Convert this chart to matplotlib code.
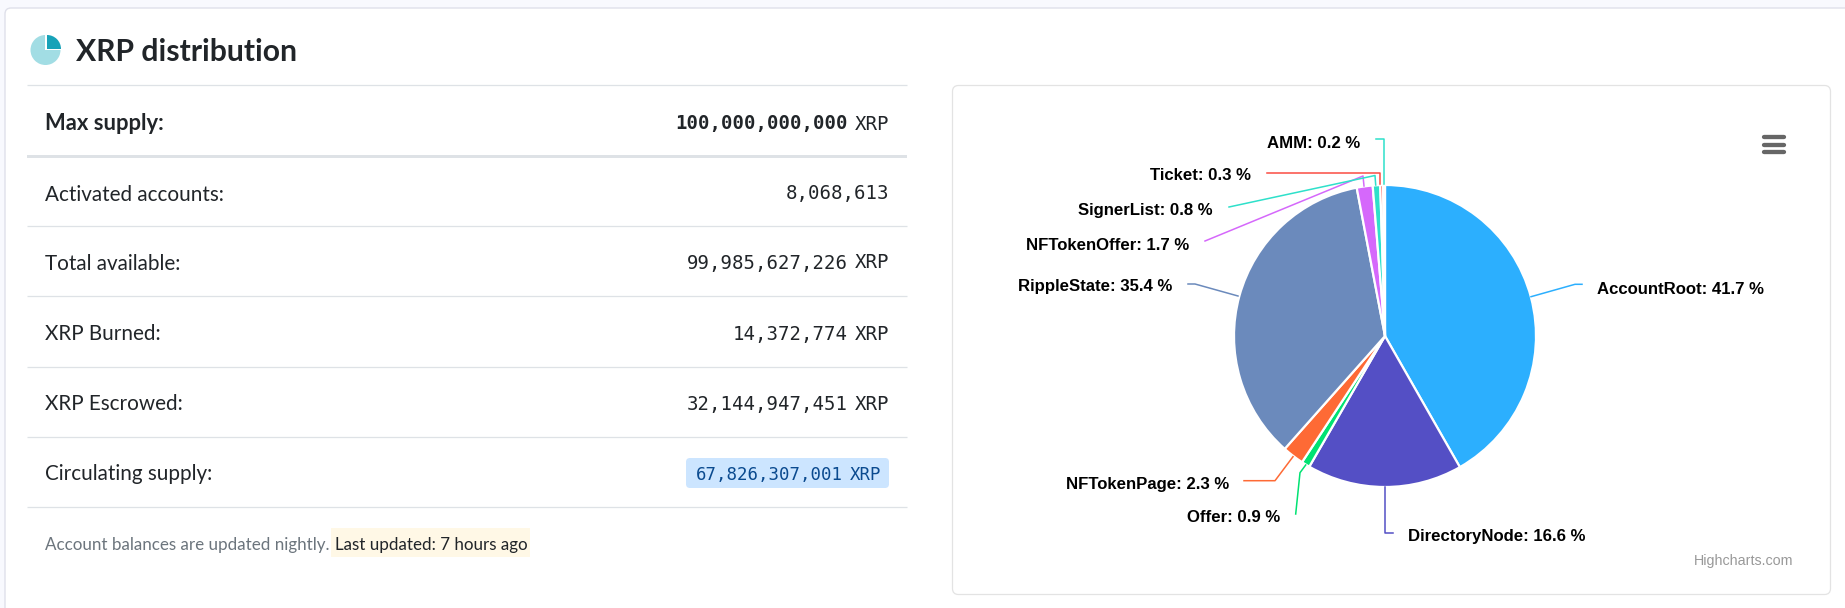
import matplotlib
matplotlib.use("Agg")
import numpy as np
import matplotlib.pyplot as plt
from matplotlib.patches import FancyBboxPatch, Rectangle, Wedge

# ---- data ----
slice_names = ["AccountRoot", "DirectoryNode", "Offer", "NFTokenPage", "RippleState",
               "NFTokenOffer", "SignerList", "Ticket", "AMM"]
slice_values = [41.7, 16.6, 0.9, 2.3, 35.4, 1.7, 0.8, 0.3, 0.2]
slice_colors = ["#2caffe", "#544fc5", "#00e272", "#fe6a35", "#6b8abc",
                "#d568fb", "#2ee0ca", "#fa4b42", "#2ee0ca"]
row_labels = ["Max supply:", "Activated accounts:", "Total available:", "XRP Burned:",
              "XRP Escrowed:", "Circulating supply:"]
row_values = ["100,000,000,000", "8,068,613", "99,985,627,226", "14,372,774",
              "32,144,947,451", "67,826,307,001"]
row_units = ["XRP", "", "XRP", "XRP", "XRP", "XRP"]

W, H = 1845, 608
PX = 0.72
SANS = ["Lato", "DejaVu Sans"]
MONO = ["DejaVu Sans Mono"]
BOLD = ["Liberation Sans", "DejaVu Sans"]

fig = plt.figure(figsize=(W / 100, H / 100), dpi=100, facecolor="#f8f9fe")
bg = fig.add_axes([0, 0, 1, 1])
bg.set_xlim(0, W)
bg.set_ylim(H, 0)
bg.axis("off")

# page card
bg.add_patch(FancyBboxPatch((5, 8), W + 40, H + 40, boxstyle="round,pad=0,rounding_size=6",
                            fc="white", ec="#dfe0ea", lw=1))
# heading icon
bg.add_patch(Wedge((45.5, 50), 15, 0, 360, fc="#a2dde4", ec="none"))
bg.add_patch(Rectangle((45, 33), 18, 17, fc="white", ec="none"))
bg.add_patch(Wedge((47, 49), 14, 270, 360, fc="#17a2b8", ec="none"))
bg.text(76, 61, "XRP distribution", family=SANS, fontsize=30.1 * PX, weight="bold",
        color="#212529", va="baseline", ha="left")

# table
row_base = [130, 201, 269.5, 340, 409.5, 480]
val_base = [129.5, 199, 268.5, 340, 410, 480]
rule_y = [85, 226, 296, 367, 437, 507]
for y in rule_y:
    bg.plot([27, 907], [y, y], color="#dee2e6", lw=0.9, solid_capstyle="butt")
bg.add_patch(Rectangle((27, 155), 880, 2.8, fc="#dee2e6", ec="none"))

bg.add_patch(FancyBboxPatch((686, 458), 203, 30, boxstyle="round,pad=0,rounding_size=4",
                            fc="#cce5ff", ec="none"))
for i, (lab, val, unit) in enumerate(zip(row_labels, row_values, row_units)):
    col = "#0a4a8f" if i == 5 else "#212529"
    bg.text(45, row_base[i], lab, family=SANS, fontsize=(22 if i == 0 else 20.7) * PX,
            color="#212529", weight="bold" if i == 0 else "normal", va="baseline", ha="left")
    right = 881 if i == 5 else 889
    size = 17.4 if i == 5 else 19
    if unit:
        bg.text(right, val_base[i], unit, family=MONO, fontsize=size * PX, color=col,
                va="baseline", ha="right")
        right -= 6.5 + 3 * size * 0.602
    bg.text(right, val_base[i], val, family=MONO, fontsize=size * PX, color=col,
            weight="bold" if i == 0 else "normal", va="baseline", ha="right")

# footer
bg.text(45, 550, "Account balances are updated nightly.", family=SANS, fontsize=17 * PX,
        color="#6c757d", va="baseline", ha="left")
bg.add_patch(Rectangle((331, 528), 199, 29, fc="#fff8e6", ec="none"))
bg.text(335, 550, "Last updated: 7 hours ago", family=SANS, fontsize=17 * PX,
        color="#212529", va="baseline", ha="left")

# chart card
bg.add_patch(FancyBboxPatch((952.5, 85.5), 878, 509, boxstyle="round,pad=0,rounding_size=6",
                            fc="white", ec="#e3e3e3", lw=0.9))

# pie
cx, cy, r = 1385, 336, 151
ax = fig.add_axes([(cx - r) / W, 1 - (cy + r) / H, 2 * r / W, 2 * r / H])
ax.pie(slice_values, colors=slice_colors, startangle=90, counterclock=False, radius=1,
       wedgeprops=dict(edgecolor="white", linewidth=1.6))
ax.set_xlim(-1, 1)
ax.set_ylim(-1, 1)
ax.axis("off")

# connectors and labels (pixel layout)
conn = {
    "AccountRoot": ([(1531, 296.7), (1575, 284.3), (1582, 284.3)], 1597, 289, "left"),
    "DirectoryNode": ([(1385, 487), (1385, 532.7), (1392.5, 532.7)], 1408, 536.5, "left"),
    "Offer": ([(1305.7, 465), (1300, 472.7), (1295.7, 514)], 1280, 518, "right"),
    "NFTokenPage": ([(1293, 456.7), (1275, 480.7), (1244, 480.7)], 1229, 484.5, "right"),
    "RippleState": ([(1238, 296), (1195, 284), (1188, 284)], 1172, 287, "right"),
    "NFTokenOffer": ([(1364, 186), (1363, 176), (1205, 241)], 1189, 245, "right"),
    "SignerList": ([(1375.7, 185), (1375, 175.5), (1229, 207)], 1213, 210.5, "right"),
    "Ticket": ([(1380, 184), (1380, 173), (1267, 173)], 1251, 175, "right"),
    "AMM": ([(1384, 184), (1384, 139), (1376, 139)], 1360, 143, "right"),
}
over = fig.add_axes([0, 0, 1, 1], facecolor="none")
over.set_xlim(0, W)
over.set_ylim(H, 0)
over.axis("off")
for name, val, colr in zip(slice_names, slice_values, slice_colors):
    pts, tx, ty, ha = conn[name]
    xs, ys = zip(*pts)
    over.plot(xs, ys, color=colr, lw=1.1, solid_joinstyle="round")
    over.text(tx, ty, f"{name}: {val} %", family=BOLD, weight="bold", fontsize=16.7 * PX,
              color="black", va="center", ha=ha)

# menu icon
for y in [137.3, 144.7, 152]:
    over.plot([1763.5, 1784], [y, y], color="#666666", lw=3.1, solid_capstyle="round")
over.text(1793.5, 561, "Highcharts.com", family=["Liberation Sans"], fontsize=14.2 * PX,
          color="#999999", va="center", ha="right")

fig.savefig("out.png", dpi=100, facecolor=fig.get_facecolor())
